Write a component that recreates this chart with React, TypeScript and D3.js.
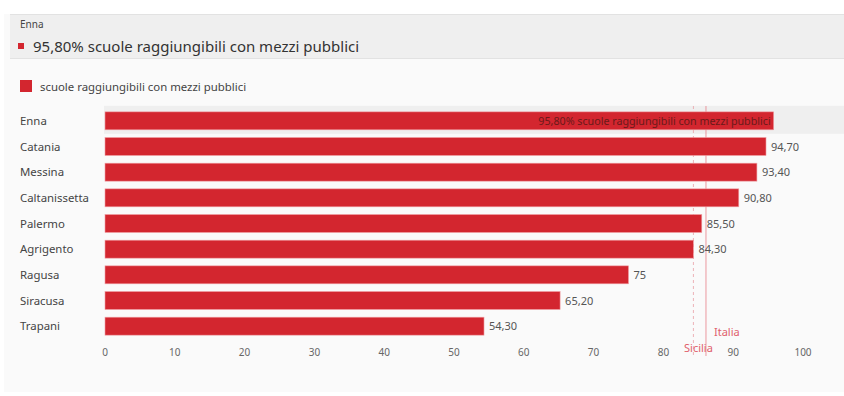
import React from "react";
import * as d3 from "d3";

const categories = ["Enna", "Catania", "Messina", "Caltanissetta", "Palermo", "Agrigento", "Ragusa", "Siracusa", "Trapani"];
const values = [95.8, 94.7, 93.4, 90.8, 85.5, 84.3, 75, 65.2, 54.3];
const seriesName = "scuole raggiungibili con mezzi pubblici";
const xTicks = [0, 10, 20, 30, 40, 50, 60, 70, 80, 90, 100];
const refLines = [
  { name: "Sicilia", value: 84.3, dashed: true },
  { name: "Italia", value: 86.1, dashed: false },
];
const highlighted = "Enna";

const W = 844;
const H = 396;
const RED = "#d3262f";
const FONT = "'Noto Sans', 'Open Sans', sans-serif";

const fmt = (v: number) => (Number.isInteger(v) ? String(v) : v.toFixed(2).replace(".", ","));

export default function App() {
  const x = d3.scaleLinear().domain([0, 100]).range([105, 803]);
  const y = d3.scaleBand().domain(categories).range([108, 339]).paddingInner(0.3).paddingOuter(0.15);
  const hv = values[categories.indexOf(highlighted)];
  return (
    <svg width={W} height={H} style={{ position: "absolute", left: 0, top: 0, fontFamily: FONT }}>
      <rect x={4} y={14} width={W - 4} height={378} fill="#fafafa" />
      <rect x={10} y={14} width={W - 10} height={44} fill="#efefef" />
      <line x1={10} x2={W} y1={14.5} y2={14.5} stroke="#e2e2e2" />
      <line x1={10} x2={W} y1={58.5} y2={58.5} stroke="#e2e2e2" />
      <text x={20} y={28} fontSize={10} fill="#444">{highlighted}</text>
      <rect x={18} y={43} width={6} height={6} fill={RED} />
      <text x={33} y={52} fontSize={15} fill="#333">{fmt(hv)}% {seriesName}</text>

      <rect x={20} y={80} width={12} height={12} fill={RED} />
      <text x={40} y={91} fontSize={11.4} fill="#444">{seriesName}</text>

      <rect x={104} y={(y(highlighted) as number) - 6} width={W - 104} height={y.bandwidth() + 10} fill="#efefef" />

      {refLines.map((r) => (
        <line key={r.name} x1={x(r.value)} x2={x(r.value)} y1={106} y2={356}
          stroke={r.dashed ? "#e8a0a6" : "#e8808a"} strokeOpacity={0.8} strokeWidth={1} strokeDasharray={r.dashed ? "3,3" : undefined} />
      ))}

      {categories.map((c, i) => {
        const yy = y(c) as number;
        const isH = c === highlighted;
        return (
          <g key={c}>
            <text x={20} y={yy + y.bandwidth() / 2 + 4} fontSize={11.4} fill="#444">{c}</text>
            <rect x={x(0)} y={yy} width={x(values[i]) - x(0)} height={y.bandwidth()} fill={RED} stroke="#f0a0a5" strokeWidth={0.6} />
            {isH ? (
              <text x={x(values[i]) - 3} y={yy + y.bandwidth() / 2 + 4} fontSize={10.7} fill="#6a1a1a" textAnchor="end">
                {fmt(values[i])}% {seriesName}
              </text>
            ) : (
              <text x={x(values[i]) + 5} y={yy + y.bandwidth() / 2 + 4} fontSize={11} fill="#555">{fmt(values[i])}</text>
            )}
          </g>
        );
      })}

      {xTicks.map((t) => (
        <text key={t} x={x(t)} y={356} fontSize={10} fill="#666" textAnchor="middle">{t}</text>
      ))}

      <text x={714} y={336} fontSize={11} fill="#e0606c">{refLines[1].name}</text>
      <text x={684} y={352} fontSize={11} fill="#e0606c">{refLines[0].name}</text>
    </svg>
  );
}
